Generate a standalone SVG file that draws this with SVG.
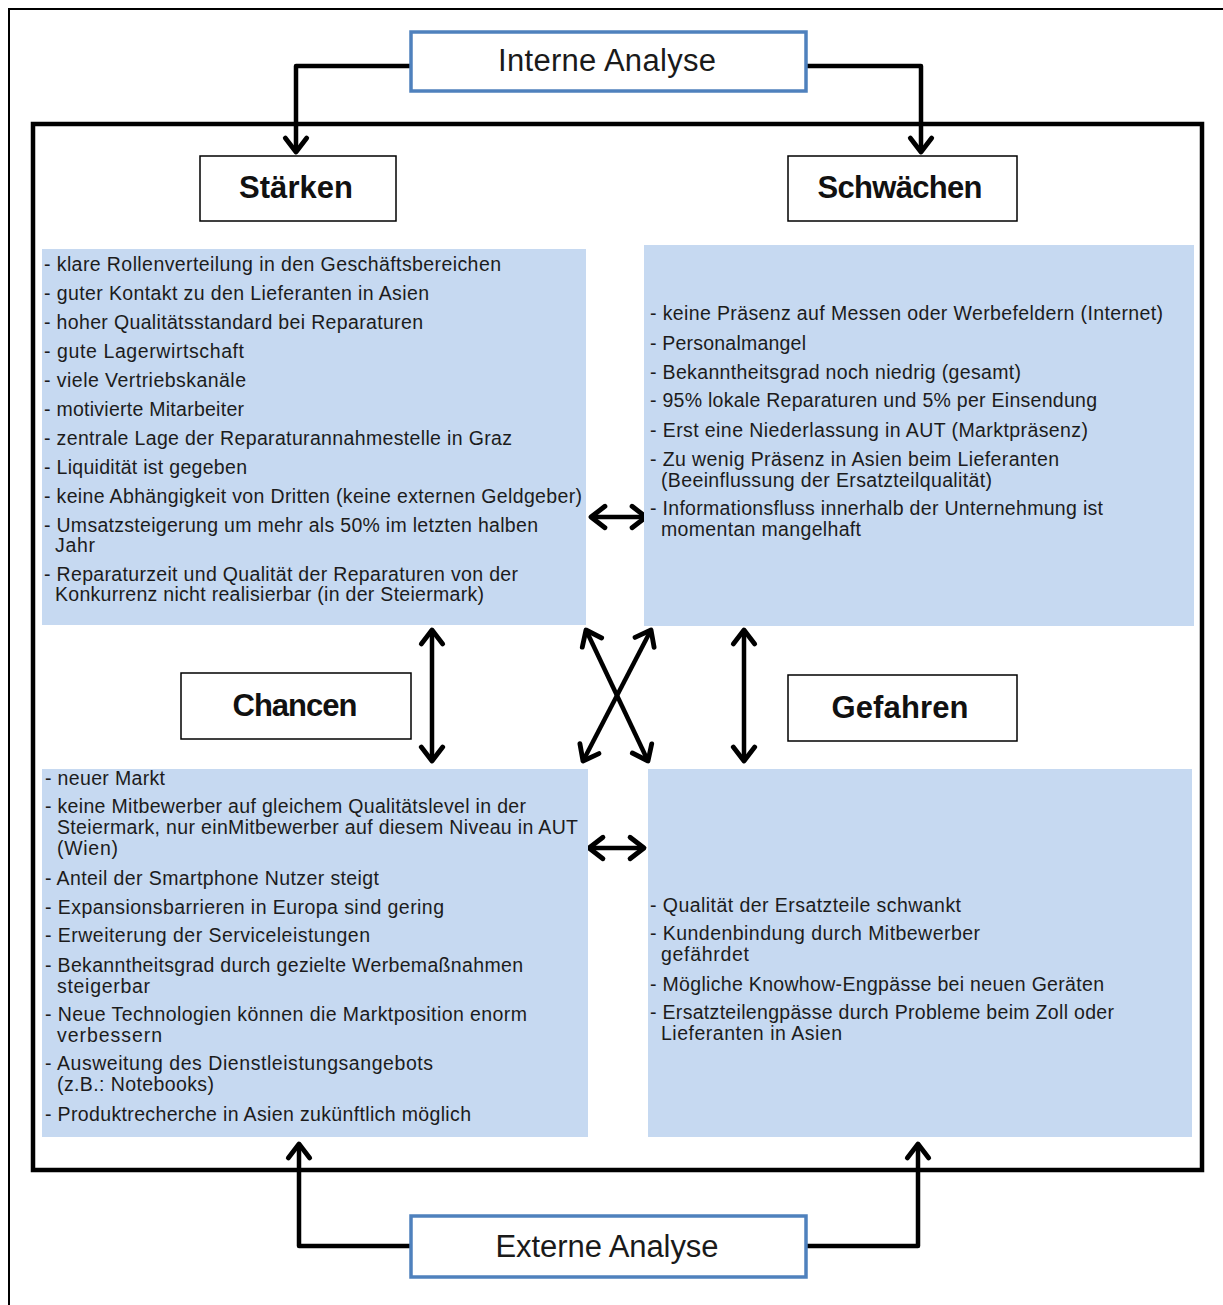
<svg xmlns="http://www.w3.org/2000/svg" width="1223" height="1305" viewBox="0 0 1223 1305">
  <style>
    .page { stroke: #000; stroke-width: 2; fill: none; }
    .frame { stroke: #000; stroke-width: 4.5; fill: none; }
    .analysis { fill: #fff; stroke: #4f81bd; stroke-width: 3.5; }
    .analysis-text { font-family: "Liberation Sans", Arial, sans-serif; font-size: 31px; fill: #1a1a1a; text-anchor: middle; }
    .head { fill: #fff; stroke: #000; stroke-width: 1.5; }
    .head-text { font-family: "Liberation Sans", Arial, sans-serif; font-size: 31px; font-weight: bold; fill: #111; text-anchor: middle; }
    .panel { fill: #c6d9f1; }
    .item { font-family: "Liberation Sans", Arial, sans-serif; font-size: 19.5px; fill: #1c1c1c; }
    .conn { stroke: #000; stroke-width: 4.5; fill: none; stroke-linejoin: round; }
  </style>
  <defs>
    <marker id="head" markerUnits="userSpaceOnUse" markerWidth="30" markerHeight="30" viewBox="-16 -14 20 28" refX="0" refY="0" orient="auto-start-reverse">
      <path d="M -13 -10 L 0 0 L -13 10" fill="none" stroke="#000" stroke-width="4.5" stroke-linecap="round" stroke-linejoin="round"/>
    </marker>
  </defs>

  <rect width="1223" height="1305" fill="#fff"/>

  <!-- page border (left and top edges) -->
  <path class="page" d="M 9 1305 L 9 9 L 1223 9"/>

  <!-- SWOT frame -->
  <rect class="frame" x="33" y="124" width="1169" height="1046"/>

  <!-- connectors -->
  <g id="connectors">
    <path class="conn" d="M 411 66 L 296 66 L 296 152" marker-end="url(#head)"/>
    <path class="conn" d="M 806 66 L 921 66 L 921 152" marker-end="url(#head)"/>
    <path class="conn" d="M 411 1246 L 299 1246 L 299 1144" marker-end="url(#head)"/>
    <path class="conn" d="M 806 1246 L 918 1246 L 918 1144" marker-end="url(#head)"/>
    <path class="conn" d="M 591 517 L 646 517" marker-start="url(#head)" marker-end="url(#head)"/>
    <path class="conn" d="M 589 848 L 644 848" marker-start="url(#head)" marker-end="url(#head)"/>
    <path class="conn" d="M 432 630 L 432 761" marker-start="url(#head)" marker-end="url(#head)"/>
    <path class="conn" d="M 744 630 L 744 761" marker-start="url(#head)" marker-end="url(#head)"/>
    <path class="conn" d="M 586 630 L 648 761" marker-start="url(#head)" marker-end="url(#head)"/>
    <path class="conn" d="M 651 630 L 583 761" marker-start="url(#head)" marker-end="url(#head)"/>
  </g>

  <g id="interne-analyse">
    <rect class="analysis" x="411" y="32" width="395" height="59"/>
    <text class="analysis-text" x="607" y="71" textLength="218">Interne Analyse</text>
  </g>

  <g id="externe-analyse">
    <rect class="analysis" x="411" y="1216" width="395" height="61"/>
    <text class="analysis-text" x="607" y="1257" textLength="223">Externe Analyse</text>
  </g>

  <g id="staerken">
    <rect class="head" x="200" y="156" width="196" height="65"/>
    <text class="head-text" x="296" y="198" textLength="114">Stärken</text>
  </g>

  <g id="schwaechen">
    <rect class="head" x="788" y="156" width="229" height="65"/>
    <text class="head-text" x="900" y="198" textLength="165">Schwächen</text>
  </g>

  <g id="chancen">
    <rect class="head" x="181" y="673" width="230" height="66"/>
    <text class="head-text" x="295" y="716" textLength="125">Chancen</text>
  </g>

  <g id="gefahren">
    <rect class="head" x="788" y="675" width="229" height="66"/>
    <text class="head-text" x="900" y="718" textLength="137">Gefahren</text>
  </g>

  <g id="staerken-liste">
    <rect class="panel" x="42" y="249" width="544" height="376"/>
    <text class="item" x="44" y="271" textLength="457">- klare Rollenverteilung in den Geschäftsbereichen</text>
    <text class="item" x="44" y="300" textLength="385">- guter Kontakt zu den Lieferanten in Asien</text>
    <text class="item" x="44" y="329" textLength="379">- hoher Qualitätsstandard bei Reparaturen</text>
    <text class="item" x="44" y="358" textLength="200">- gute Lagerwirtschaft</text>
    <text class="item" x="44" y="387" textLength="202">- viele Vertriebskanäle</text>
    <text class="item" x="44" y="416" textLength="200">- motivierte Mitarbeiter</text>
    <text class="item" x="44" y="445" textLength="468">- zentrale Lage der Reparaturannahmestelle in  Graz</text>
    <text class="item" x="44" y="474" textLength="203">- Liquidität ist gegeben</text>
    <text class="item" x="44" y="503" textLength="538">- keine Abhängigkeit von Dritten (keine externen Geldgeber)</text>
    <text class="item" x="44" y="532" textLength="494">- Umsatzsteigerung um mehr als 50% im letzten halben</text>
    <text class="item" x="55" y="552" textLength="40">Jahr</text>
    <text class="item" x="44" y="581" textLength="474">- Reparaturzeit und Qualität der Reparaturen von der</text>
    <text class="item" x="55" y="601" textLength="429">Konkurrenz nicht realisierbar (in der Steiermark)</text>
  </g>

  <g id="schwaechen-liste">
    <rect class="panel" x="644" y="245" width="550" height="381"/>
    <text class="item" x="650" y="320" textLength="513">- keine Präsenz auf Messen oder Werbefeldern (Internet)</text>
    <text class="item" x="650" y="350" textLength="156">- Personalmangel</text>
    <text class="item" x="650" y="379" textLength="371">- Bekanntheitsgrad noch niedrig (gesamt)</text>
    <text class="item" x="650" y="407" textLength="447">- 95% lokale Reparaturen und 5% per Einsendung</text>
    <text class="item" x="650" y="437" textLength="438">- Erst eine Niederlassung in AUT (Marktpräsenz)</text>
    <text class="item" x="650" y="466" textLength="409">- Zu wenig Präsenz in Asien beim Lieferanten</text>
    <text class="item" x="661" y="487" textLength="331">(Beeinflussung der Ersatzteilqualität)</text>
    <text class="item" x="650" y="515" textLength="453">- Informationsfluss innerhalb der Unternehmung ist</text>
    <text class="item" x="661" y="536" textLength="200">momentan mangelhaft</text>
  </g>

  <g id="chancen-liste">
    <rect class="panel" x="42" y="769" width="546" height="368"/>
    <text class="item" x="45" y="785" textLength="120">- neuer Markt</text>
    <text class="item" x="45" y="813" textLength="481">- keine Mitbewerber auf gleichem Qualitätslevel in der</text>
    <text class="item" x="57" y="834" textLength="521">Steiermark, nur einMitbewerber auf diesem Niveau in AUT</text>
    <text class="item" x="57" y="855" textLength="61">(Wien)</text>
    <text class="item" x="45" y="885" textLength="334">- Anteil der Smartphone Nutzer steigt</text>
    <text class="item" x="45" y="914" textLength="399">- Expansionsbarrieren in Europa sind gering</text>
    <text class="item" x="45" y="942" textLength="325">- Erweiterung der Serviceleistungen</text>
    <text class="item" x="45" y="972" textLength="478">- Bekanntheitsgrad durch gezielte Werbemaßnahmen</text>
    <text class="item" x="57" y="993" textLength="93">steigerbar</text>
    <text class="item" x="45" y="1021" textLength="482">- Neue Technologien können die Marktposition enorm</text>
    <text class="item" x="57" y="1042" textLength="105">verbessern</text>
    <text class="item" x="45" y="1070" textLength="388">- Ausweitung des Dienstleistungsangebots</text>
    <text class="item" x="57" y="1091" textLength="157">(z.B.: Notebooks)</text>
    <text class="item" x="45" y="1121" textLength="426">- Produktrecherche in Asien zukünftlich möglich</text>
  </g>

  <g id="gefahren-liste">
    <rect class="panel" x="648" y="769" width="544" height="368"/>
    <text class="item" x="650" y="912" textLength="311">- Qualität der Ersatzteile schwankt</text>
    <text class="item" x="650" y="940" textLength="330">- Kundenbindung durch Mitbewerber</text>
    <text class="item" x="661" y="961" textLength="88">gefährdet</text>
    <text class="item" x="650" y="991" textLength="454">- Mögliche Knowhow-Engpässe bei neuen Geräten</text>
    <text class="item" x="650" y="1019" textLength="464">- Ersatzteilengpässe durch Probleme beim Zoll oder</text>
    <text class="item" x="661" y="1040" textLength="181">Lieferanten in Asien</text>
  </g>
</svg>
